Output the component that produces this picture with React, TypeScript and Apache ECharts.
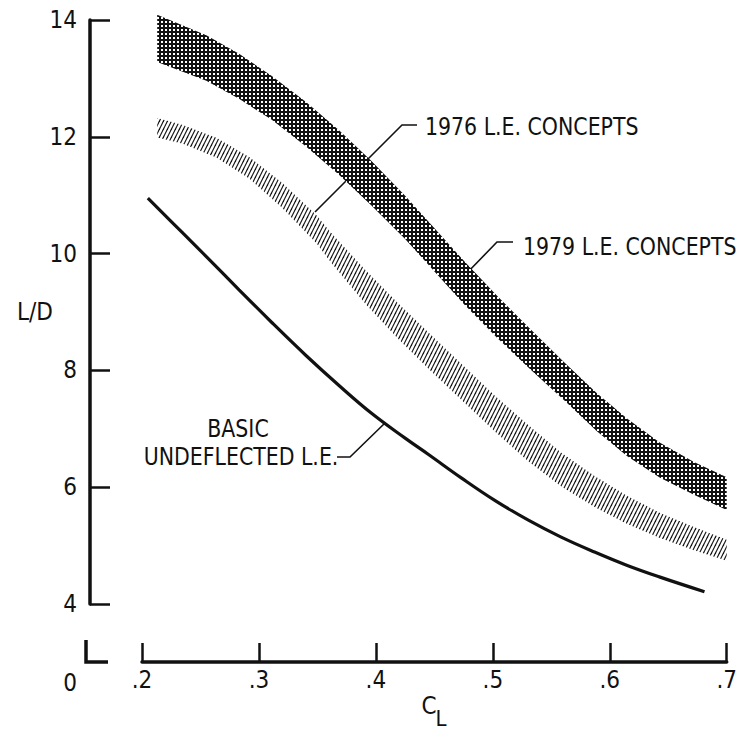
import React, { useEffect, useRef } from 'react';
import * as echarts from 'echarts';

// ---- data ----
const basicCL = [0.205, 0.235, 0.255, 0.283, 0.311, 0.34, 0.368, 0.396, 0.425, 0.445, 0.473, 0.502, 0.53, 0.558, 0.587, 0.615, 0.643, 0.681];
const basicLD = [10.95, 10.35, 9.95, 9.38, 8.82, 8.26, 7.75, 7.27, 6.84, 6.56, 6.16, 5.77, 5.44, 5.15, 4.89, 4.66, 4.46, 4.21];

const c79CL = [0.213, 0.255, 0.283, 0.311, 0.34, 0.368, 0.396, 0.425, 0.453, 0.476, 0.504, 0.532, 0.561, 0.589, 0.615, 0.643, 0.672, 0.7];
const c79Upper = [14.09, 13.74, 13.42, 13.04, 12.6, 12.12, 11.59, 10.99, 10.37, 9.86, 9.27, 8.71, 8.14, 7.61, 7.17, 6.76, 6.43, 6.17];
const c79Lower = [13.28, 12.96, 12.65, 12.29, 11.84, 11.36, 10.83, 10.25, 9.63, 9.12, 8.55, 8.02, 7.49, 6.96, 6.53, 6.16, 5.87, 5.61];

const c76CL = [0.213, 0.235, 0.264, 0.292, 0.32, 0.349, 0.362, 0.391, 0.419, 0.447, 0.476, 0.502, 0.53, 0.558, 0.587, 0.615, 0.643, 0.672, 0.7];
const c76Upper = [12.32, 12.2, 11.98, 11.65, 11.21, 10.66, 10.35, 9.72, 9.15, 8.61, 8.06, 7.56, 7.07, 6.6, 6.19, 5.85, 5.56, 5.32, 5.1];
const c76Lower = [11.99, 11.88, 11.64, 11.28, 10.78, 10.18, 9.84, 9.14, 8.54, 7.99, 7.44, 6.95, 6.45, 6.02, 5.66, 5.37, 5.13, 4.92, 4.74];

const xMin = 0.2;
const xMax = 0.7;
const xStep = 0.1;
const yMin = 4;
const yMax = 14;
const yStep = 2;

const labels = {
  c76: '1976 L.E. CONCEPTS',
  c79: '1979 L.E. CONCEPTS',
  basic1: 'BASIC',
  basic2: 'UNDEFLECTED L.E.',
  yName: 'L/D',
  xName: 'C',
  xSub: 'L',
  zero: '0',
};

const FONT = '"Liberation Sans Narrow", "DejaVu Sans Condensed", "Liberation Sans", sans-serif';
const INK = '#111111';

function makeCrossPattern() {
  const c = document.createElement('canvas');
  c.width = 4;
  c.height = 4;
  const g = c.getContext('2d')!;
  g.fillStyle = INK;
  g.fillRect(0, 0, 4, 4);
  g.fillStyle = '#ffffff';
  g.fillRect(1, 1, 2, 2);
  return c;
}

function makeHatchPattern() {
  const c = document.createElement('canvas');
  c.width = 4;
  c.height = 8;
  const g = c.getContext('2d')!;
  g.clearRect(0, 0, 4, 8);
  g.strokeStyle = INK;
  g.lineWidth = 1.2;
  for (const dx of [-4, 0, 4]) {
    g.beginPath();
    g.moveTo(dx - 1, 10);
    g.lineTo(dx + 5, -2);
    g.stroke();
  }
  return c;
}

function bandRenderer(cl: number[], up: number[], lo: number[], pattern: HTMLCanvasElement) {
  return (_params: any, api: any) => {
    const pts: number[][] = [];
    for (let i = 0; i < cl.length; i++) pts.push(api.coord([cl[i], up[i]]));
    for (let i = cl.length - 1; i >= 0; i--) pts.push(api.coord([cl[i], lo[i]]));
    return {
      type: 'polygon',
      silent: true,
      shape: { points: pts },
      style: {
        fill: { image: pattern, repeat: 'repeat', imageWidth: pattern.width, imageHeight: pattern.height },
        stroke: null,
      },
    };
  };
}

export default function App() {
  const ref = useRef<HTMLDivElement>(null);

  useEffect(() => {
    if (!ref.current) return;
    const chart = echarts.init(ref.current, null, { renderer: 'svg' });
    const cross = makeCrossPattern();
    const hatch = makeHatchPattern();

    const text = (t: string, x: number, y: number, align: string, size = 24, sx = 0.95) => ({
      type: 'text',
      x,
      y,
      scaleX: sx,
      silent: true,
      style: {
        text: t,
        fill: INK,
        fontSize: size,
        fontFamily: FONT,
        textAlign: align,
        textVerticalAlign: 'middle',
      },
    });
    const leader = (pts: number[][]) => ({
      type: 'polyline',
      silent: true,
      shape: { points: pts },
      style: { stroke: INK, lineWidth: 1.6, fill: null },
    });

    chart.setOption({
      animation: false,
      backgroundColor: '#ffffff',
      grid: { left: 142, right: 10, top: 20, bottom: 128, containLabel: false },
      xAxis: {
        type: 'value',
        min: xMin,
        max: xMax,
        interval: xStep,
        offset: 58,
        axisLine: { show: true, lineStyle: { color: INK, width: 3.5 } },
        axisTick: { show: true, inside: true, length: 19, lineStyle: { color: INK, width: 2.5 } },
        axisLabel: {
          margin: 6,
          color: INK,
          fontSize: 24,
          fontFamily: FONT,
          formatter: (v: number) => '.' + String(Math.round(v * 10)),
        },
        splitLine: { show: false },
      },
      yAxis: {
        type: 'value',
        min: yMin,
        max: yMax,
        interval: yStep,
        offset: 52,
        name: labels.yName,
        nameLocation: 'middle',
        nameRotate: 0,
        nameGap: 37,
        nameMoveOverlap: false,
        nameTextStyle: { color: INK, fontSize: 24, fontFamily: FONT },
        axisLine: { show: true, lineStyle: { color: INK, width: 3.5 } },
        axisTick: { show: true, inside: true, length: 20, lineStyle: { color: INK, width: 2.5 } },
        axisLabel: { margin: 13, color: INK, fontSize: 24, fontFamily: FONT },
        splitLine: { show: false },
      },
      series: [
        {
          type: 'custom',
          name: labels.c79,
          coordinateSystem: 'cartesian2d',
          renderItem: bandRenderer(c79CL, c79Upper, c79Lower, cross),
          data: [[c79CL[0], c79Upper[0]]],
          silent: true,
          z: 2,
        },
        {
          type: 'custom',
          name: labels.c76,
          coordinateSystem: 'cartesian2d',
          renderItem: bandRenderer(c76CL, c76Upper, c76Lower, hatch),
          data: [[c76CL[0], c76Upper[0]]],
          silent: true,
          z: 2,
        },
        {
          type: 'line',
          name: 'BASIC UNDEFLECTED L.E.',
          data: basicCL.map((x, i) => [x, basicLD[i]]),
          smooth: 0.4,
          showSymbol: false,
          symbol: 'none',
          lineStyle: { color: INK, width: 3.2 },
          silent: true,
          z: 3,
        },
      ],
      graphic: [
        // axis break below the y axis
        {
          type: 'polyline',
          silent: true,
          shape: { points: [[86, 640], [86, 662], [108, 662]] },
          style: { stroke: INK, lineWidth: 3.5, fill: null },
        },
        text(labels.zero, 70, 683, 'center', 24, 1),
        text(labels.xName, 429, 706, 'center', 24, 1),
        text(labels.xSub, 441, 718, 'center', 22, 1),
        text(labels.c76, 425, 127, 'left'),
        leader([[417, 125], [402, 125], [315, 212]]),
        text(labels.c79, 523, 247, 'left'),
        leader([[513, 242], [497, 242], [465, 275]]),
        text(labels.basic1, 238, 429, 'center'),
        text(labels.basic2, 241, 457, 'center'),
        leader([[337, 457], [350, 457], [385, 423]]),
      ],
    });

    return () => chart.dispose();
  }, []);

  return (
    <div
      ref={ref}
      style={{ position: 'fixed', left: 0, top: 0, width: 740, height: 732, background: '#fff' }}
    />
  );
}
